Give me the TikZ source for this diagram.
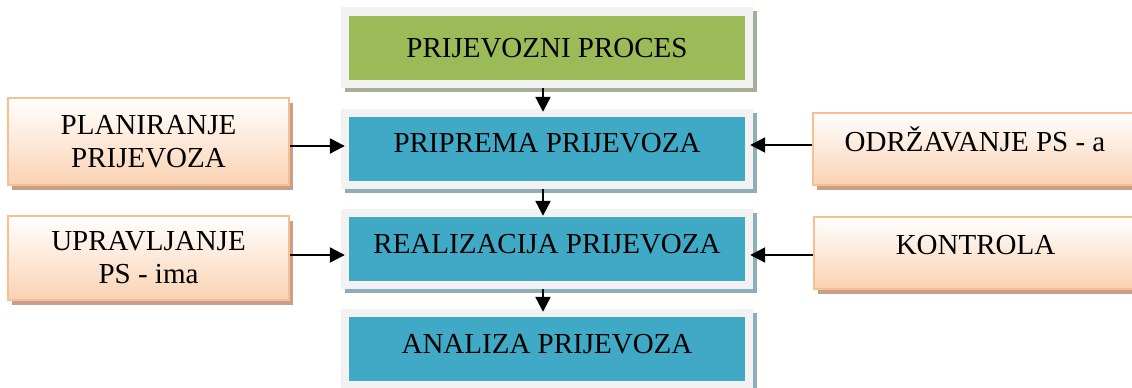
\documentclass[tikz,border=0pt]{standalone}
\usepackage{fontspec}
\setmainfont{Liberation Serif}
\usetikzlibrary{arrows.meta,shadows}
\definecolor{grn}{HTML}{9BBB59}
\definecolor{cyn}{HTML}{3FA9C6}
\definecolor{frm}{HTML}{F2F2F2}
\definecolor{shg}{HTML}{A5AE97}
\definecolor{shc}{HTML}{8DAEB7}
\definecolor{orb}{HTML}{F9C08F}
\definecolor{orf}{HTML}{FAD2B2}
\definecolor{sho}{HTML}{C89F8C}
\begin{document}
\begin{tikzpicture}[x=1pt,y=1pt,
  txt/.style={font=\fontsize{29}{33}\selectfont},
  framebox/.style={fill=frm, inner sep=0pt, minimum width=412pt, minimum height=80pt,
    general shadow={fill=#1, shadow xshift=4pt, shadow yshift=-4pt}},
  innerbox/.style={fill=#1, inner sep=0pt, minimum width=396pt, minimum height=64pt, txt},
  sidebox/.style={draw=orb, line width=1.4pt, top color=white, bottom color=orf,
    inner sep=0pt, align=center, txt,
    general shadow={fill=sho, shadow xshift=3.5pt, shadow yshift=-5pt}},
  arr/.style={line width=2.2pt, -{Triangle[length=15pt,width=15pt]}}
]
\useasboundingbox (0,0) rectangle (1132,388);

% central column
\node[framebox=shg, minimum height=81pt] (f1) at (547,340.5) {};
\node[innerbox=grn, text height=19pt, text depth=0pt] (b1) at (547,340) {PRIJEVOZNI PROCES};

\node[framebox=shc] (f2) at (547,239) {};
\node[innerbox=cyn, text height=19pt, text depth=12pt] (b2) at (547,239) {PRIPREMA PRIJEVOZA};

\node[framebox=shc] (f3) at (547,139) {};
\node[innerbox=cyn, text height=19pt, text depth=9pt] (b3) at (547,139) {REALIZACIJA PRIJEVOZA};

\node[framebox=shc] (f4) at (547,39) {};
\node[innerbox=cyn, text height=19pt, text depth=9pt] (b4) at (547,39) {ANALIZA PRIJEVOZA};

% side boxes
\node[sidebox, minimum width=281pt, minimum height=87pt] (plan) at (148.5,246.5) {PLANIRANJE\\PRIJEVOZA};
\node[sidebox, minimum width=281pt, minimum height=84pt] (uprav) at (148.5,130) {UPRAVLJANJE\\PS - ima};
\node[sidebox, minimum width=324pt, minimum height=72pt, text height=20pt, text depth=15pt] (odrz) at (975,239) {ODRŽAVANJE PS - a};
\node[sidebox, minimum width=323pt, minimum height=72pt, text height=20pt, text depth=16pt] (kontr) at (975.5,135) {KONTROLA};

% vertical arrows
\draw[arr, shorten >=5pt] ([xshift=-4pt]f1.south) -- ([xshift=-4pt]b2.north);
\draw[arr, shorten >=1pt] ([xshift=-4pt]f2.south) -- ([xshift=-4pt]b3.north);
\draw[arr, shorten >=5pt] ([xshift=-4pt]f3.south) -- ([xshift=-4pt]b4.north);

% horizontal arrows
\draw[arr, shorten >=4pt] ([yshift=-4.5pt]plan.east) -- ([yshift=-4.5pt]plan.east -| b2.west);
\draw[arr, shorten >=5pt] ([yshift=4pt]odrz.west) -- ([yshift=4pt]odrz.west -| b2.east);
\draw[arr, shorten >=4pt] ([yshift=3pt]uprav.east) -- ([yshift=3pt]uprav.east -| b3.west);
\draw[arr, shorten >=5pt] ([yshift=-2pt]kontr.west) -- ([yshift=-2pt]kontr.west -| b3.east);
\end{tikzpicture}
\end{document}
